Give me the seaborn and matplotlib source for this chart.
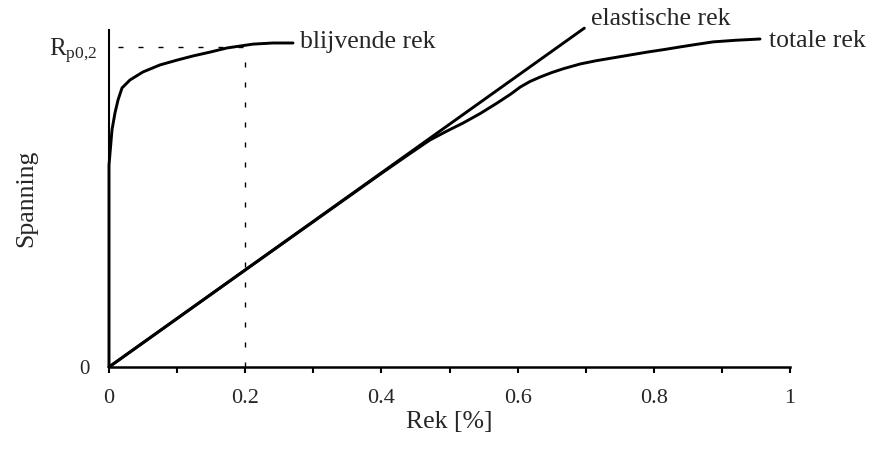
import numpy as np
import pandas as pd
import seaborn as sns
import matplotlib.pyplot as plt
from matplotlib.transforms import ScaledTranslation

# Values (stress scaled so that Rp0,2 = 1)
blijvend_rek = [0, 0, 0.0044, 0.0088, 0.0132, 0.0191, 0.0308, 0.0499, 0.0749,
                0.0999, 0.1233, 0.1483, 0.1733, 0.1924, 0.2115, 0.2408, 0.2702]
blijvend_spanning = [0, 0.631, 0.741, 0.794, 0.834, 0.872, 0.897, 0.922, 0.944,
                     0.959, 0.972, 0.984, 0.997, 1.003, 1.009, 1.0125, 1.0125]

elastisch_rek = [0, 0.698]
elastisch_spanning = [0, 1.059]

totaal_rek = [0, 0.2, 0.4, 0.44, 0.471, 0.495, 0.520, 0.545, 0.570, 0.590, 0.604,
              0.618, 0.633, 0.650, 0.667, 0.692, 0.715, 0.740, 0.765, 0.790,
              0.815, 0.838, 0.862, 0.887, 0.92, 0.956]
totaal_spanning = [0, 0.303, 0.605, 0.664, 0.709, 0.736, 0.7625, 0.792, 0.825,
                   0.853, 0.875, 0.892, 0.906, 0.920, 0.932, 0.947, 0.957, 0.966,
                   0.975, 0.984, 0.992, 1.0, 1.008, 1.016, 1.021, 1.025]

rp_rek = 0.2
rp_spanning = 1.0

x_ticks = [0, 0.2, 0.4, 0.6, 0.8, 1]
x_ticklabels = ['0', '0.2', '0.4', '0.6', '0.8', '1']
y_ticks = [0, rp_spanning]
y_ticklabels = ['0', r'R$_{\mathrm{p0{,}2}}$']

sns.set_theme(style='white')
plt.rcParams['font.family'] = ['Liberation Serif', 'DejaVu Serif']
plt.rcParams['mathtext.fontset'] = 'custom'
plt.rcParams['mathtext.rm'] = 'Liberation Serif'
plt.rcParams['mathtext.it'] = 'Liberation Serif:italic'

fig = plt.figure(figsize=(8.69, 4.51), dpi=100)
ax = fig.add_axes([109 / 869, 84 / 451, 681 / 869, 345.6 / 451])

# reference lines for Rp0,2
ax.hlines(rp_spanning, 0.013, rp_rek, color='black', lw=1,
          linestyles=(0, (3.6, 10.8)))
ax.vlines(rp_rek, 0, rp_spanning, color='black', lw=1,
          linestyles=(0, (3.6, 10.8)))

sns.lineplot(x=blijvend_rek, y=blijvend_spanning, sort=False, estimator=None,
             color='black', lw=2.1, ax=ax)
sns.lineplot(x=elastisch_rek, y=elastisch_spanning, sort=False, estimator=None,
             color='black', lw=2.1, ax=ax)
sns.lineplot(x=totaal_rek, y=totaal_spanning, sort=False, estimator=None,
             color='black', lw=2.1, ax=ax)
for ln in ax.lines:
    ln.set_clip_on(False)
    ln.set_solid_joinstyle('round')

ax.set_xlim(0, 1)
ax.set_ylim(0, 1.08)

# curve labels
ax.text(blijvend_rek[-1] + 0.01, blijvend_spanning[-1] + 0.004, 'blijvende rek',
        fontsize=18.5, ha='left', va='center')
ax.text(elastisch_rek[-1] + 0.01, elastisch_spanning[-1] + 0.03, 'elastische rek',
        fontsize=18.5, ha='left', va='center')
ax.text(totaal_rek[-1] + 0.013, totaal_spanning[-1] - 0.006, 'totale rek',
        fontsize=18.5, ha='left', va='center')

sns.despine(ax=ax)
ax.spines['left'].set_bounds(0, 1.053)
ax.spines['left'].set_linewidth(1.5)
ax.spines['bottom'].set_linewidth(1.8)
ax.spines['left'].set_color('black')
ax.spines['bottom'].set_color('black')

ax.set_xticks(x_ticks)
ax.set_xticklabels(x_ticklabels)
ax.set_xticks(np.arange(0.1, 1.0, 0.2), minor=True)
ax.tick_params(axis='x', which='both', direction='out', length=4.5, width=1.5,
               color='black', bottom=True, labelsize=16, pad=11)
ax.set_yticks(y_ticks)
ax.set_yticklabels(y_ticklabels)
ax.tick_params(axis='y', length=0, pad=8, labelsize=15)
ylabels = ax.get_yticklabels()
ylabels[1].set_fontsize(18)
ylabels[0].set_transform(ylabels[0].get_transform() +
                         ScaledTranslation(-5.8 / 72, 0, fig.dpi_scale_trans))

ax.set_xlabel('Rek [%]', fontsize=18.5)
ax.xaxis.set_label_coords(0.5, -0.128)
ax.set_ylabel('Spanning', fontsize=18.5)
ax.yaxis.set_label_coords(-0.106, 0.489)

fig.savefig('out.png', dpi=100)
